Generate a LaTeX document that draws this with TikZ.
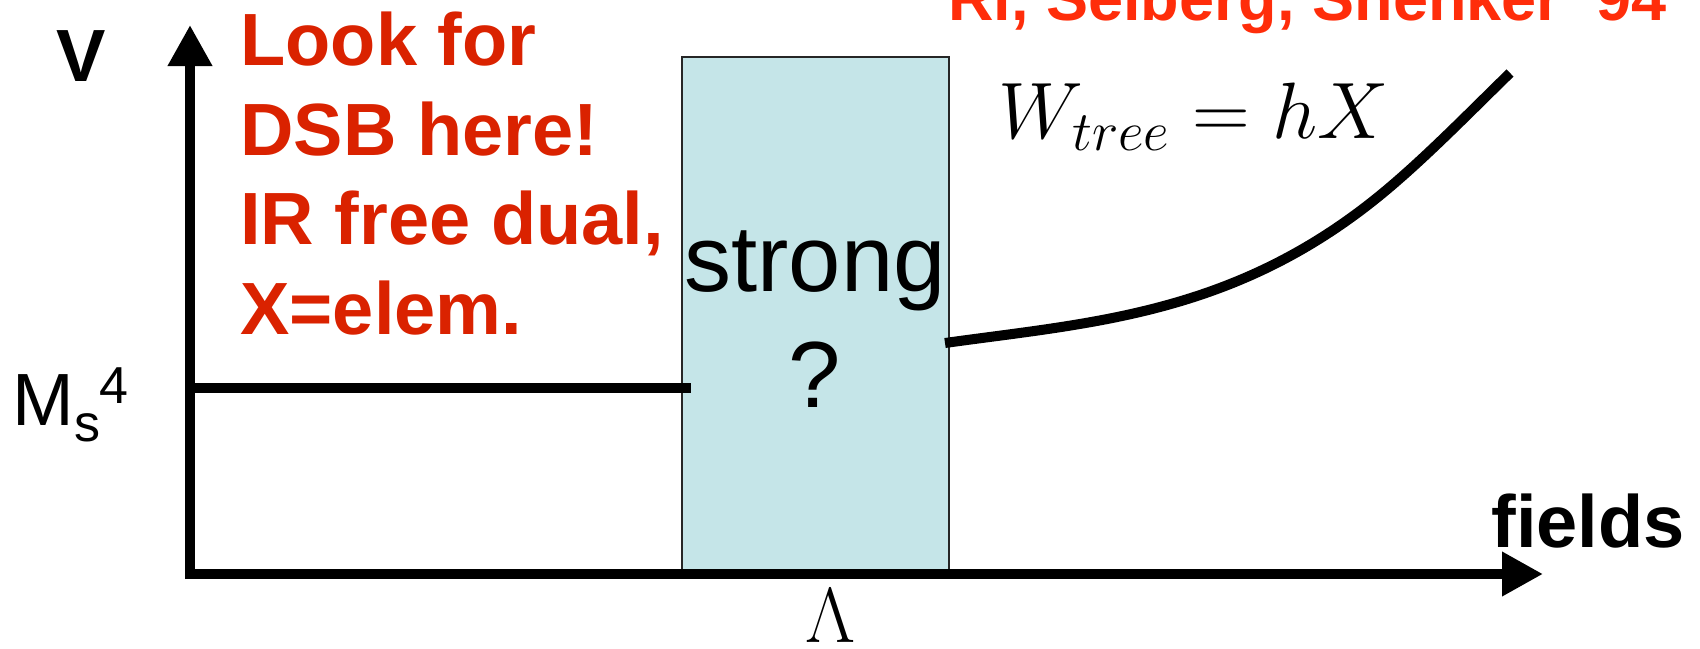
\documentclass[tikz,border=0pt]{standalone}
\usepackage{fix-cm}
\usepackage[no-math]{fontspec}
\setmainfont{Liberation Sans}
\usetikzlibrary{arrows.meta}
\definecolor{redL}{RGB}{218,34,0}
\definecolor{redT}{RGB}{255,45,10}
\definecolor{boxfill}{RGB}{197,229,232}
\tikzset{
  axisline/.style={line width=5pt,-{Triangle[length=20.5pt,width=21pt]}},
  curveline/.style={line width=5pt},
  redlab/.style={text=redL,font=\bfseries\fontsize{37}{44}\selectfont,anchor=base west,inner sep=0pt},
  toplab/.style={text=redT,font=\bfseries\fontsize{31.5}{38}\selectfont,anchor=base west,inner sep=0pt},
  blacklab/.style={font=\bfseries\fontsize{37}{44}\selectfont,inner sep=0pt},
  plainlab/.style={font=\fontsize{37}{44}\selectfont,inner sep=0pt,anchor=base west},
  scriptlab/.style={font=\fontsize{26}{30}\selectfont,inner sep=0pt,anchor=base west},
  boxlab/.style={font=\fontsize{47}{56}\selectfont,inner sep=0pt,anchor=base},
  mathlab/.style={inner sep=0pt},
  regionbox/.style={draw=black!85,line width=1pt,fill=boxfill,minimum width=133.5pt,minimum height=258.5pt,inner sep=0pt}
}
\begin{document}
\begin{tikzpicture}[x=0.5pt,y=-0.5pt]
\useasboundingbox (0,0) rectangle (1700,648);
\clip (0,0) rectangle (1700,648);
% region box
\node[regionbox] (box) at (815.5,315.5) {};
% axes
\coordinate (ybottom) at (190,579);
\coordinate (ytop) at (190,25);
\coordinate (xleft) at (185,574);
\coordinate (xright) at (1543,574);
\draw[axisline] (ybottom) -- (ytop);
\draw[axisline] (xleft) -- (xright);
% flat potential
\coordinate (flatL) at (190,388);
\coordinate (flatR) at (691,388);
\draw[curveline] (flatL) -- (flatR);
% rising potential
\coordinate (cS) at (945,343);
\coordinate (cM) at (1390,187);
\coordinate (cE) at (1510,73);
\draw[curveline] (cS) .. controls (1095,322) and (1240,314.5) .. (cM)
                      .. controls (1430,153) and (1470,112) .. (cE);
% labels
\node[blacklab,anchor=base] (V) at (81,81) {V};
\node[blacklab,anchor=base west] (fields) at (1491,547) {fields};
\node[plainlab] (M) at (12,425) {M};
\node[scriptlab] (Ms) at (74,441) {s};
\node[scriptlab] (M4) at (99,403) {4};
\node[redlab] (l1) at (240,65) {Look for};
\node[redlab] (l2) at (240,155) {DSB here!};
\node[redlab] (l3) at (240,244) {IR free dual,};
\node[redlab] (l4) at (240,334) {X=elem.};
\node[boxlab] (strong) at (815,291) {strong};
\node[boxlab] (qm) at (815,407) {?};
\node[mathlab,anchor=base,font=\fontsize{39}{46}\selectfont] (lam) at (830,642) {$\Lambda$};
\node[mathlab,anchor=base west,font=\fontsize{40}{48}\selectfont] (W) at (998,138) {$W_{tree}=hX$};
\node[toplab] (ref) at (948,20) {Ri, Seiberg, Shenker '94};
\end{tikzpicture}
\end{document}
